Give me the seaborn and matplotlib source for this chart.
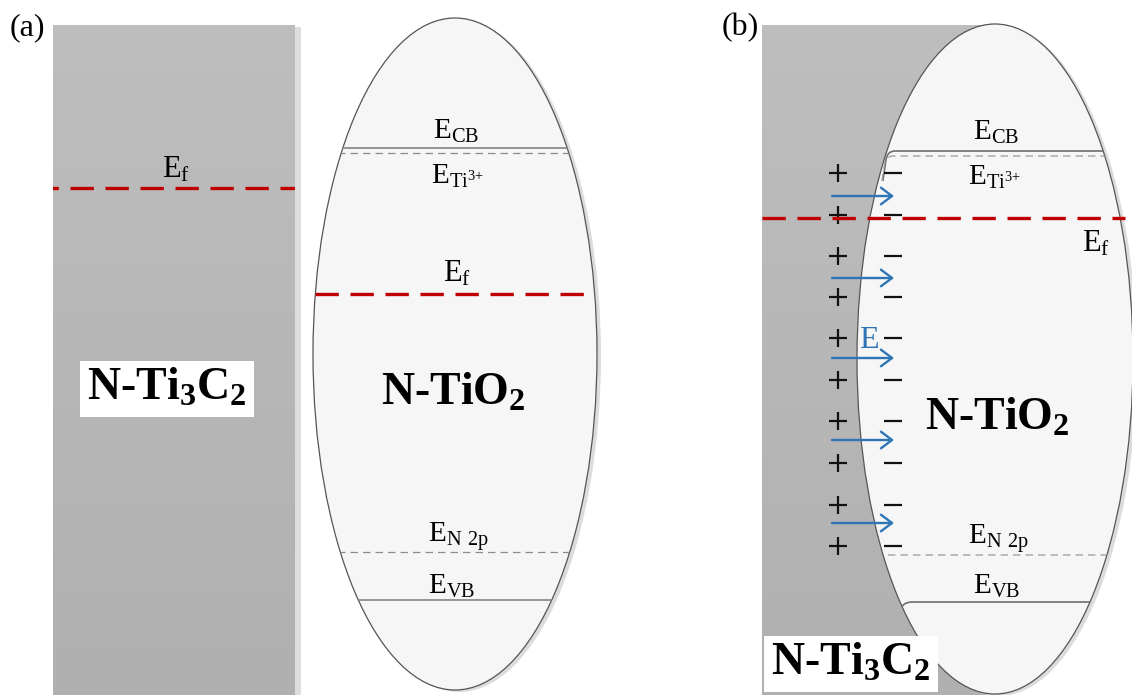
import numpy as np
import pandas as pd
import matplotlib
matplotlib.use("Agg")
import matplotlib.pyplot as plt
import seaborn as sns
from matplotlib.patches import Ellipse, Rectangle, FancyArrowPatch, PathPatch
from matplotlib.path import Path
from matplotlib.colors import LinearSegmentedColormap

# ---- energy levels (canvas units, smaller value = higher energy) ----
level_labels = [r"E$_{CB}$", r"E$_{Ti^{3{+}}}$", r"E$_{N\ 2p}$", r"E$_{VB}$"]
levels_a = [148, 153, 552, 600]          # N-TiO2 alone
levels_b = [151, 156, 555, 602]          # N-TiO2 in contact with N-Ti3C2
fermi_metal_a = 188                      # N-Ti3C2 Fermi level
fermi_semi_a = 294                       # N-TiO2 Fermi level
fermi_b = 218                            # common Fermi level after contact

# space-charge rows and built-in field arrows at the interface
charge_rows = [173, 215, 256, 297, 338, 380, 421, 463, 505, 546]
field_rows = [196, 278, 358, 440, 523]

sns.set_theme(style="white")
plt.rcParams.update({
    "font.family": ["Liberation Serif", "DejaVu Serif"],
    "mathtext.fontset": "custom",
    "mathtext.rm": "Liberation Serif",
    "mathtext.default": "regular",
    "text.color": "black",
})

W, H = 1132, 695
fig = plt.figure(figsize=(W / 100, H / 100), dpi=100)
ax = fig.add_axes([0, 0, 1, 1])
ax.set_xlim(0, W)
ax.set_ylim(H, 0)
ax.axis("off")

GRAY_EDGE = "#555555"
LEVEL_C = "#8c8c8c"
RED = "#c00000"
BLUE = "#2e75b6"
metal_cmap = LinearSegmentedColormap.from_list("metal", ["#bebebe", "#b0b0b0"])
grad = np.linspace(0, 1, 256).reshape(-1, 1)


def metal_block(x0, x1, y0, y1, shadow=True):
    if shadow:
        ax.add_patch(Rectangle((x0 + 4, y0 + 2), x1 - x0 + 2, y1 - y0,
                               fc="#dddddd", ec="none", zorder=1))
    r = Rectangle((x0, y0), x1 - x0, y1 - y0, fc="none", ec="none", zorder=2)
    ax.add_patch(r)
    im = ax.imshow(grad, cmap=metal_cmap, extent=(x0, x1, y1, y0),
                   aspect="auto", zorder=2, interpolation="bicubic")
    im.set_clip_path(r)
    return r


def semiconductor(cx, cy, a, b):
    ax.add_patch(Ellipse((cx + 4, cy + 2), 2 * a, 2 * b, fc="#dcdcdc",
                         ec="none", zorder=3))
    e = Ellipse((cx, cy), 2 * a, 2 * b, fc="#f6f6f6", ec=GRAY_EDGE,
                lw=0.9, zorder=4)
    ax.add_patch(e)
    return e


def left_edge(cx, cy, a, b, y):
    return cx - a * np.sqrt(max(0.0, 1 - ((y - cy) / b) ** 2))


# ================= (a) before contact =================
rect_a = metal_block(53, 295, 25, H)
ell_a = semiconductor(455, 354, 142, 336)

for i, (lab, y) in enumerate(zip(level_labels, levels_a)):
    dashed = i in (1, 2)
    ln = ax.axhline(y, color=LEVEL_C, lw=0.9 if dashed else 1.3,
                    ls=(0, (6, 4)) if dashed else "-", zorder=5)
    ln.set_clip_path(ell_a)

ax.text(456, 139, level_labels[0], ha="center", va="baseline", fontsize=21, zorder=6)
ax.text(457, 184, level_labels[1], ha="center", va="baseline", fontsize=21, zorder=6)
ax.text(458, 542, level_labels[2], ha="center", va="baseline", fontsize=21, zorder=6)
ax.text(452, 594, level_labels[3], ha="center", va="baseline", fontsize=21, zorder=6)

ln = ax.axhline(fermi_metal_a, color=RED, lw=2.4, ls=(0, (7, 3.5)), zorder=7)
ln.set_clip_path(rect_a)
ax.text(176, 177, r"E$_{f}$", ha="center", va="baseline", fontsize=22, zorder=6)

ln = ax.axhline(fermi_semi_a, color=RED, lw=2.4, ls=(0, (7, 3.5)), zorder=7)
ln.set_clip_path(ell_a)
ax.text(457, 282, r"E$_{f}$", ha="center", va="baseline", fontsize=22, zorder=6)

ax.text(167, 400, r"N-Ti$_3$C$_2$", ha="center", va="baseline", fontsize=33,
        fontweight="bold", zorder=6,
        bbox=dict(boxstyle="square,pad=0.15", fc="white", ec="none"))
ax.text(453, 405, r"N-TiO$_2$", ha="center", va="baseline", fontsize=33,
        fontweight="bold", zorder=6)
ax.text(10, 35, "(a)", ha="left", va="baseline", fontsize=23, zorder=6)

# ================= (b) after contact =================
cxb, cyb, ab, bb = 995, 359, 138, 335
metal_block(762, 992, 25, H, shadow=False)
ell_b = semiconductor(cxb, cyb, ab, bb)

bend_r = [8, 8, 6, 12]
for i, (y, r) in enumerate(zip(levels_b, bend_r)):
    dashed = i in (1, 2)
    xe = left_edge(cxb, cyb, ab, bb, y)
    xs = xe + r
    verts = [(W + 20, y), (xs, y), (xs - r, y), (xs - r - 1, y + r + 2),
             (xs - r - 4, y + 30)]
    codes = [Path.MOVETO, Path.LINETO, Path.CURVE3, Path.CURVE3, Path.LINETO]
    pp = PathPatch(Path(verts, codes), fc="none",
                   ec="#9a9a9a" if dashed else "#6e6e6e",
                   lw=0.9 if dashed else 1.2,
                   ls=(0, (6, 4)) if dashed else "-", zorder=5)
    ax.add_patch(pp)
    pp.set_clip_path(ell_b)

ax.text(996, 140, level_labels[0], ha="center", va="baseline", fontsize=21, zorder=6)
ax.text(994, 185, level_labels[1], ha="center", va="baseline", fontsize=21, zorder=6)
ax.text(998, 544, level_labels[2], ha="center", va="baseline", fontsize=21, zorder=6)
ax.text(997, 594, level_labels[3], ha="center", va="baseline", fontsize=21, zorder=6)

ax.hlines(fermi_b, 762, cxb + ab - 8, color=RED, lw=2.4,
          linestyles=(0, (7, 3.5)), zorder=8)
ax.text(1096, 252, r"E$_{f}$", ha="center", va="baseline", fontsize=22, zorder=6)

# space charge: + on the metal side, − on the semiconductor side
charges = pd.DataFrame({
    "row": charge_rows * 2,
    "side": [838] * len(charge_rows) + [893] * len(charge_rows),
    "sign": ["+"] * len(charge_rows) + ["_"] * len(charge_rows),
})
for sign, grp in charges.groupby("sign"):
    sns.scatterplot(data=grp, x="side", y="row", marker=sign, s=150,
                    color="#111111", linewidth=1.6, ax=ax, zorder=7,
                    legend=False)

for y in field_rows:
    ax.add_patch(FancyArrowPatch((832, y), (894, y),
                                 arrowstyle="->,head_length=0.4,head_width=0.3",
                                 mutation_scale=20, lw=1.7, color=BLUE,
                                 shrinkA=0, shrinkB=0, zorder=7))
ax.text(869, 348, "E", ha="center", va="baseline", fontsize=23, color=BLUE,
        zorder=7)

ax.text(997, 430, r"N-TiO$_2$", ha="center", va="baseline", fontsize=33,
        fontweight="bold", zorder=6)
ax.text(851, 675, r"N-Ti$_3$C$_2$", ha="center", va="baseline", fontsize=33,
        fontweight="bold", zorder=6,
        bbox=dict(boxstyle="square,pad=0.15", fc="white", ec="none"))
ax.text(722, 35, "(b)", ha="left", va="baseline", fontsize=23, zorder=6)

ax.set_xlim(0, W)
ax.set_ylim(H, 0)
ax.set_xlabel("")
ax.set_ylabel("")
fig.savefig("out.png", dpi=100, facecolor="white")
